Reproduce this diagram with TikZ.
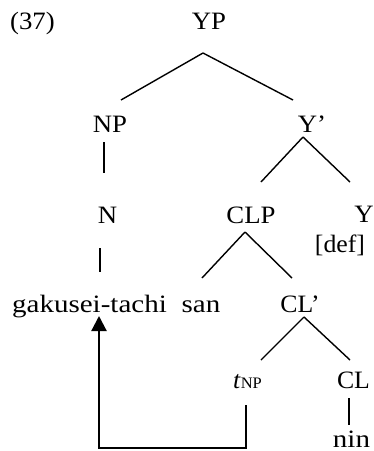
\documentclass[tikz,border=0pt]{standalone}
\usepackage{fontspec}
\setmainfont{Liberation Serif}
\newfontfamily\tms[FakeStretch=1.07]{Liberation Serif}
\newfontfamily\pal[FakeStretch=1.16]{Liberation Serif}
\newfontfamily\palc[FakeStretch=1.03]{Liberation Serif}
\usetikzlibrary{arrows.meta}
\tikzset{
  lbl/.style={inner sep=0pt, outer sep=0pt, anchor=base, font=\fontsize{25}{29}\selectfont\tms},
  plbl/.style={lbl, font=\fontsize{25}{29}\selectfont\pal},
  clbl/.style={lbl, font=\fontsize{25}{29}\selectfont\palc},
  branch/.style={line width=1.4pt},
  move/.style={line width=2.2pt, -{Triangle[width=15pt,length=15pt]}}
}
\begin{document}
\begin{tikzpicture}[x=1pt,y=1pt]
\useasboundingbox (0,0) rectangle (374,-451);
\node[lbl] (ex) at (32.5,-29) {(37)};
\node[lbl] (YP) at (209,-29) {YP};
\node[lbl] (NP) at (110,-132) {NP};
\node[lbl] (Yb) at (312,-132) {Y’};
\node[lbl] (N) at (107.5,-223) {N};
\node[lbl] (CLP) at (251,-223) {CLP};
\node[lbl] (Y) at (364,-222) {Y};
\node[clbl] (def) at (340,-252) {[def]};
\node[plbl] (gak) at (89.5,-312) {gakusei-tachi};
\node[plbl] (san) at (201,-312) {san};
\node[clbl] (CLb) at (300,-312) {CL’};
\node[clbl] (t) at (247.5,-388) {\textit{t}{\fontsize{16}{18}\selectfont NP}};
\node[clbl] (CL) at (353.5,-388) {CL};
\node[plbl] (nin) at (351.5,-447) {nin};
\draw[branch] ([xshift=-6pt,yshift=-24pt]YP.base) -- ([xshift=11pt,yshift=32pt]NP.base);
\draw[branch] ([xshift=-6pt,yshift=-24pt]YP.base) -- ([xshift=-19pt,yshift=32pt]Yb.base);
\draw[branch] ([xshift=-6pt,yshift=-10pt]NP.base) -- ([xshift=-3.5pt,yshift=50pt]N.base);
\draw[branch] ([xshift=-9pt,yshift=-5pt]Yb.base) -- ([xshift=10pt,yshift=41pt]CLP.base);
\draw[branch] ([xshift=-9pt,yshift=-5pt]Yb.base) -- ([xshift=-14pt,yshift=40pt]Y.base);
\draw[branch] ([xshift=-7.5pt,yshift=-25pt]N.base) -- ([xshift=10.5pt,yshift=40pt]gak.base);
\draw[branch] ([xshift=-6pt,yshift=-9pt]CLP.base) -- ([xshift=1pt,yshift=34pt]san.base);
\draw[branch] ([xshift=-6pt,yshift=-9pt]CLP.base) -- ([xshift=-8pt,yshift=34pt]CLb.base);
\draw[branch] ([xshift=4pt,yshift=-5pt]CLb.base) -- ([xshift=13.5pt,yshift=28pt]t.base);
\draw[branch] ([xshift=4pt,yshift=-5pt]CLb.base) -- ([xshift=-3.5pt,yshift=28pt]CL.base);
\draw[branch] ([xshift=-4.5pt,yshift=-10pt]CL.base) -- ([xshift=-2.5pt,yshift=22pt]nin.base);
\draw[move] ([xshift=-1.5pt,yshift=-17pt]t.base) -- ([xshift=-1.5pt,yshift=-60pt]t.base) -| ([xshift=9.5pt,yshift=-4pt]gak.base);
\end{tikzpicture}
\end{document}
